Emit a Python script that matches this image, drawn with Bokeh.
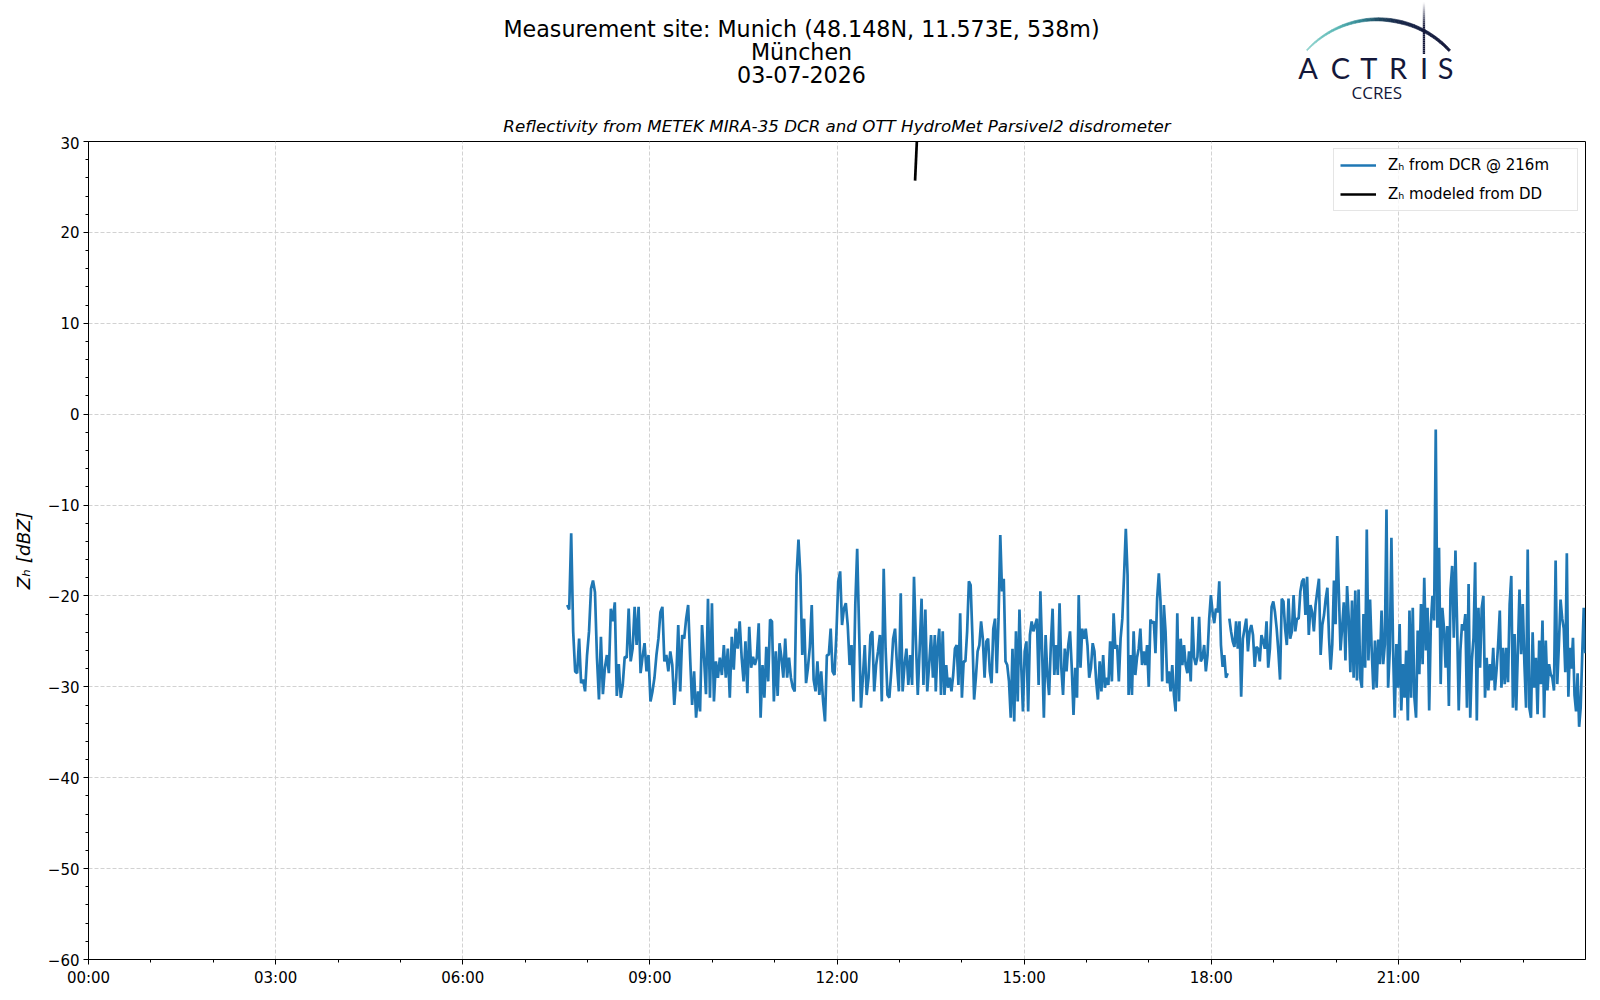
import numpy as np
from bokeh.plotting import figure
from bokeh.layouts import column
from bokeh.models import FixedTicker, Legend, LegendItem, Range1d
from bokeh.core.properties import value
from bokeh.embed import file_html
from bokeh.resources import INLINE

# ---------------- data ----------------
# DCR reflectivity at 216 m in consecutive pieces:
# (start minute, end minute) of each piece and its values in dBZ
seg1_span = (460.5, 626.4)
seg1 = [-21.0, -21.5, -13.1, -23.9, -28.3, -28.5, -24.7, -29.6, -29.2, -30.5,
        -26.5, -23.9, -19.2, -18.3, -19.6, -26.8, -31.4, -24.5, -30.8, -27.9,
        -26.5, -28.5, -21.4, -22.8, -20.7, -31.0, -27.5, -31.2, -29.8, -26.7,
        -26.8, -21.4, -27.2, -25.8, -21.2, -25.4, -21.2, -28.5, -26.7, -25.2,
        -28.3, -26.5, -31.6, -30.5, -29.0, -26.5, -24.7, -21.8, -21.2, -27.2,
        -26.5, -28.3, -26.1, -27.6, -32.0, -29.0, -23.2, -30.5, -24.3, -24.7,
        -22.5, -21.0, -26.8, -32.0, -28.3, -33.4, -30.5, -32.7, -23.2, -26.8,
        -30.8, -20.3, -31.2, -20.8, -31.6, -27.2, -29.0, -26.8, -28.7, -25.4,
        -29.0, -25.8, -31.2, -24.5, -28.1, -23.6, -25.8, -22.8]

seg2_span = (628.3, 814.1)
seg2 = [-26.8, -29.4, -25.0, -30.7, -23.4, -27.9, -26.7, -27.6, -26.8, -23.0,
        -33.4, -27.6, -31.2, -25.6, -29.4, -22.6, -22.8, -31.6, -26.1, -31.0,
        -25.2, -26.8, -29.0, -24.7, -29.0, -26.8, -29.0, -30.1, -30.5, -17.7,
        -13.8, -17.7, -26.5, -22.5, -29.6, -27.9, -25.6, -21.0, -29.2, -30.5,
        -27.2, -30.9, -28.3, -31.6, -33.8, -26.5, -26.5, -23.6, -28.3, -28.7,
        -24.3, -18.4, -17.3, -23.2, -21.4, -20.8, -23.2, -27.6, -25.4, -31.6,
        -21.0, -14.8, -23.6, -32.3, -29.0, -25.4, -30.9, -29.0, -24.3, -23.9,
        -30.5, -27.6, -26.1, -24.3, -31.6, -17.0, -25.8, -30.9, -31.2, -28.3,
        -24.7, -23.6, -27.6, -30.5, -19.7, -30.5, -27.6, -25.8, -29.8, -26.5,
        -29.8, -17.9, -25.0, -30.9, -25.8, -20.3, -29.8, -21.5, -30.5, -27.6,
        -24.3, -29.0, -24.3]

seg3_span = (815.0, 999.5)
seg3 = [-30.5, -25.8, -23.6, -30.9, -23.9, -30.9, -27.6, -30.1, -29.0, -30.5,
        -28.7, -25.8, -25.4, -29.8, -21.9, -31.2, -27.2, -27.2, -23.9, -18.4,
        -18.8, -24.3, -31.4, -29.0, -26.1, -25.4, -22.8, -24.7, -29.0, -25.0,
        -24.7, -28.3, -29.6, -23.6, -22.5, -28.5, -22.5, -13.3, -19.5, -18.1,
        -27.2, -27.6, -29.4, -33.4, -25.8, -33.8, -23.9, -31.6, -21.5, -27.6,
        -32.7, -26.1, -25.0, -32.7, -24.3, -22.8, -23.9, -23.2, -22.5, -29.8,
        -19.5, -26.1, -33.4, -24.3, -28.7, -30.9, -25.4, -21.4, -28.7, -25.4,
        -28.7, -20.8, -27.9, -30.9, -25.8, -28.3, -25.4, -23.9, -27.9, -33.1,
        -27.9, -31.2, -19.9, -27.9, -23.6, -24.7, -23.6, -25.4, -29.0, -27.9,
        -25.2, -26.1, -29.4, -31.4, -27.2, -30.5, -26.5, -30.1, -29.0, -29.8,
        -25.0, -29.4, -21.9, -25.8, -25.4, -29.4, -24.7, -22.5, -17.7, -12.6,
        -17.7]

seg4_span = (1000.5, 1095.8)
seg4 = [-30.9, -26.5, -30.9, -23.9, -28.7, -26.8, -25.8, -23.6, -27.6, -26.1,
        -27.6, -25.4, -30.0, -22.6, -23.0, -22.8, -26.3, -20.3, -17.5, -20.6,
        -29.4, -21.0, -23.9, -29.6, -28.3, -30.5, -27.6, -30.9, -32.7, -21.9,
        -31.6, -24.7, -27.6, -25.4, -27.6, -28.5, -26.1, -29.4, -22.3, -26.8,
        -27.6, -26.7, -22.3, -27.2, -26.8, -25.4, -28.3, -26.5, -22.5, -19.9,
        -21.8, -23.0, -21.4, -21.8, -18.4, -25.4, -27.8, -26.5, -29.0, -28.5]

# short data gap, then the record resumes
seg5_span = (1097.4, 1190.1)
seg5 = [-22.5, -23.9, -25.0, -25.6, -22.8, -25.8, -22.8, -31.1, -24.7, -23.6,
        -22.5, -26.1, -23.9, -23.2, -24.3, -27.8, -25.6, -25.8, -27.2, -24.3,
        -25.0, -25.8, -22.8, -27.9, -25.8, -21.2, -20.6, -21.8, -23.6, -26.1,
        -29.2, -20.3, -20.6, -23.6, -25.4, -20.3, -24.7, -23.9, -19.9, -23.9,
        -22.5, -22.5, -19.5, -18.4, -18.1, -22.1, -17.9, -24.3, -21.0, -21.8,
        -23.9, -21.0, -19.5, -18.1, -26.5, -23.2, -22.1, -20.3]

seg6_span = (1191.7, 1416.0)
seg6 = [-19.1, -24.6, -28.1, -25.3, -18.3, -23.1, -13.4, -19.6, -26.0, -23.5,
        -20.7, -27.1, -18.9, -22.4, -28.4, -20.5, -29.0, -19.4, -29.3, -19.3,
        -29.0, -30.1, -22.0, -27.9, -12.7, -27.1, -20.4, -26.0, -30.3, -24.9,
        -30.1, -24.8, -27.5, -21.6, -27.5, -25.3, -10.5, -30.1, -26.0, -13.6,
        -25.7, -33.4, -25.3, -30.1, -23.1, -32.6, -27.5, -31.2, -26.0, -33.7,
        -21.6, -31.2, -21.3, -31.2, -33.4, -23.8, -28.6, -20.9, -27.5, -18.0,
        -26.0, -21.3, -32.6, -23.1, -20.0, -22.7, -1.7, -23.5, -14.7, -29.7,
        -21.3, -23.5, -27.9, -23.3, -32.1, -19.3, -16.7, -24.6, -15.0, -23.1,
        -32.6, -26.0, -23.1, -23.8, -22.0, -32.3, -18.7, -33.4, -27.1, -24.6,
        -16.3, -33.7, -21.3, -27.9, -21.3, -20.0, -31.2, -26.8, -30.4, -27.5,
        -29.3, -25.7, -30.4, -28.2, -25.3, -21.6, -30.1, -25.7, -29.7, -25.7,
        -29.5, -20.9, -17.8, -32.3, -24.2, -32.6, -26.0, -19.3, -26.4, -20.9,
        -27.5, -32.3, -14.9, -32.3, -33.4, -24.0, -30.1, -26.8, -33.0, -24.9,
        -29.7, -22.7, -33.4, -24.9, -30.4, -27.5, -28.6, -29.0, -30.4, -16.1,
        -29.7, -25.3, -20.4]

seg7_span = (1417.6, 1439.8)
seg7 = [-22.5, -23.6, -28.4, -15.3, -31.1, -25.7, -28.0, -24.6, -30.9, -32.7,
        -28.5, -34.4, -32.3, -26.5, -21.3, -26.3]

# Z_H modeled from the disdrometer (one short burst, mostly above the axis)
dd_minutes = [795.1, 797.2]
dd_zh = [25.7, 31.0]

# axis ticks and labels
x_major = [0, 3, 6, 9, 12, 15, 18, 21]
x_minor = [1, 2, 4, 5, 7, 8, 10, 11, 13, 14, 16, 17, 19, 20, 22, 23]
x_labels = ["00:00", "03:00", "06:00", "09:00", "12:00", "15:00", "18:00", "21:00"]
y_major = [-60, -50, -40, -30, -20, -10, 0, 10, 20, 30]
y_minor = [v for v in range(-60, 31, 2) if v % 10 != 0]
y_labels = ["\u221260", "\u221250", "\u221240", "\u221230", "\u221220", "\u221210", "0", "10", "20", "30"]

title_lines = ["Measurement site: Munich (48.148N, 11.573E, 538m)", "M\u00fcnchen", "03-07-2026"]
subtitle = "Reflectivity from METEK MIRA-35 DCR and OTT HydroMet Parsivel2 disdrometer"
legend_labels = ["Z\u2095 from DCR @ 216m", "Z\u2095 modeled from DD"]

# ------------- assemble the series -------------
pieces_a = [(seg1_span, seg1), (seg2_span, seg2), (seg3_span, seg3), (seg4_span, seg4)]
pieces_b = [(seg5_span, seg5), (seg6_span, seg6), (seg7_span, seg7)]


def build(pieces):
    tt, vv = [], []
    for (t0, t1), vals in pieces:
        tt.extend(np.linspace(t0, t1, len(vals)))
        vv.extend(vals)
    return tt, vv


ta, va = build(pieces_a)
tb, vb = build(pieces_b)
dcr_hours = np.array(ta + [np.nan] + tb) / 60.0
dcr_zh = np.array(va + [np.nan] + vb)
dd_hours = np.array(dd_minutes) / 60.0

FONT = "DejaVu Sans"
W = 1600
HEAD_H = 136
FRAME_L, FRAME_W = 88, 1497

# ---------------- header (titles + logo) ----------------
# the column aligns this header's frame with the chart frame below, so the
# header's x range spans the same page pixels (88 .. 1585); y runs downwards
head = figure(width=W, height=HEAD_H, x_range=Range1d(FRAME_L, FRAME_L + FRAME_W),
              y_range=Range1d(HEAD_H, 0),
              x_axis_type=None, y_axis_type=None, min_border=0,
              output_backend="svg", toolbar_location=None,
              background_fill_color="white", border_fill_color="white")
head.outline_line_color = None
head.grid.visible = False

head.text(x=[801, 801, 801], y=[28.6, 51.3, 74.3], text=title_lines,
          text_align="center", text_baseline="middle", text_font=value(FONT),
          text_font_size=value("22.2px"), text_color="black")
head.text(x=[836.5], y=[125.2], text=[subtitle], text_align="center", text_baseline="middle",
          text_font=value(FONT), text_font_style="italic", text_font_size=value("16.7px"),
          text_color="black")

# ACTRIS CCRES logo: gradient arc, vertical stroke, letters
NAVY = (20, 24, 58)
stops = [(-48, (145, 212, 206)), (-25, (88, 182, 180)), (-10, (48, 132, 146)),
         (0, (32, 74, 98)), (12, (24, 38, 72)), (48, NAVY)]


def grad(th):
    for (a0, c0), (a1, c1) in zip(stops[:-1], stops[1:]):
        if a0 <= th <= a1:
            f = (th - a0) / (a1 - a0)
            return "#%02x%02x%02x" % tuple(int(round(c0[k] + f * (c1[k] - c0[k]))) for k in range(3))
    return "#%02x%02x%02x" % NAVY


def thick(th):
    if th < 10:
        return 1.2 + 2.3 * (th + 48) / 58.0
    return 3.5 - 1.0 * (th - 10) / 38.0


cx, cy, R = 1378.0, 114.3, 97.0
angles = np.linspace(-48, 48, 41)
arc_xs, arc_ys, arc_cols = [], [], []
for a0, a1 in zip(angles[:-1], angles[1:]):
    px, py = [], []
    for a, rr in [(a0, R), (a1, R), (a1, R - thick(a1)), (a0, R - thick(a0))]:
        rad = np.radians(a)
        px.append(cx + rr * np.sin(rad))
        py.append(cy - rr * np.cos(rad))
    arc_xs.append(px)
    arc_ys.append(py)
    arc_cols.append(grad(0.5 * (a0 + a1)))
head.patches(arc_xs, arc_ys, fill_color=arc_cols, line_color=arc_cols, line_width=0.6)

vx0, vx1 = 1422.3, 1424.6
st_xs, st_ys, st_alpha = [], [], []
for y0 in np.arange(0, 54, 2.0):
    y1 = min(y0 + 2.0, 53.5)
    st_xs.append([vx0, vx1, vx1, vx0])
    st_ys.append([y0, y0, y1, y1])
    st_alpha.append(float(min(1.0, max(0.0, (y0 - 1) / 24.0))))
navy_hex = "#%02x%02x%02x" % NAVY
head.patches(st_xs, st_ys, fill_color=navy_hex, fill_alpha=st_alpha, line_color=None)

logo_letters = ["A", "C", "T", "R", "I", "S"]
logo_x = [1307.5, 1340.0, 1368.3, 1397.5, 1423.5, 1445.0]
head.text(x=logo_x, y=[67.3] * 6, text=logo_letters, text_align="center",
          text_baseline="middle", text_font=value("Lato"), text_font_size=value("29px"),
          text_color="#14183a")
head.text(x=[1376.3], y=[92.2], text=["CCRES"], text_align="center", text_baseline="middle",
          text_font=value("Open Sans"), text_font_size=value("17px"), text_color="#14183a")

# ---------------- main chart ----------------
p = figure(frame_width=FRAME_W, frame_height=818,
           min_border_left=FRAME_L, min_border_right=15, min_border_top=5, min_border_bottom=41,
           x_range=Range1d(0, 24), y_range=Range1d(-60, 30),
           output_backend="svg", toolbar_location=None,
           background_fill_color="white", border_fill_color="white")
p.outline_line_color = "black"
p.outline_line_width = 1
p.outline_line_alpha = 1

r_dcr = p.line(dcr_hours, dcr_zh, line_color="#1f77b4", line_width=2.7)
r_dd = p.line(dd_hours, dd_zh, line_color="black", line_width=2.7)

for ax in (p.xaxis[0], p.yaxis[0]):
    ax.axis_line_color = "black"
    ax.major_tick_line_color = "black"
    ax.minor_tick_line_color = "black"
    ax.major_tick_in = 0
    ax.minor_tick_in = 0
    ax.major_tick_out = 5
    ax.minor_tick_out = 3
    ax.major_label_text_font = FONT
    ax.major_label_text_font_size = "15px"
    ax.major_label_text_color = "black"
    ax.major_label_standoff = 4

p.xaxis.ticker = FixedTicker(ticks=x_major, minor_ticks=x_minor)
p.xaxis.major_label_overrides = dict(zip(x_major, x_labels))
p.yaxis.ticker = FixedTicker(ticks=y_major, minor_ticks=y_minor)
p.yaxis.major_label_overrides = dict(zip(y_major, y_labels))

p.yaxis.axis_label = "Z\u2095 [dBZ]"
p.yaxis.axis_label_text_font = FONT
p.yaxis.axis_label_text_font_style = "italic"
p.yaxis.axis_label_text_font_size = "18.5px"
p.yaxis.axis_label_text_color = "black"
p.yaxis.axis_label_standoff = 11

for g in (p.xgrid[0], p.ygrid[0]):
    g.grid_line_color = "#d2d2d2"
    g.grid_line_dash = "4 2"
    g.grid_line_width = 1

legend = Legend(items=[LegendItem(label=legend_labels[0], renderers=[r_dcr]),
                       LegendItem(label=legend_labels[1], renderers=[r_dd])],
                location="top_right", margin=7, padding=6, spacing=9,
                glyph_width=36, glyph_height=20, label_height=20, label_width=183,
                label_standoff=12, label_text_font=FONT, label_text_font_size="15px",
                label_text_color="black",
                border_line_color="#cccccc", border_line_width=1,
                background_fill_color="white", background_fill_alpha=0.8)
p.add_layout(legend)

layout = column(head, p, spacing=0)
open("out.html", "w").write(file_html(layout, INLINE))
